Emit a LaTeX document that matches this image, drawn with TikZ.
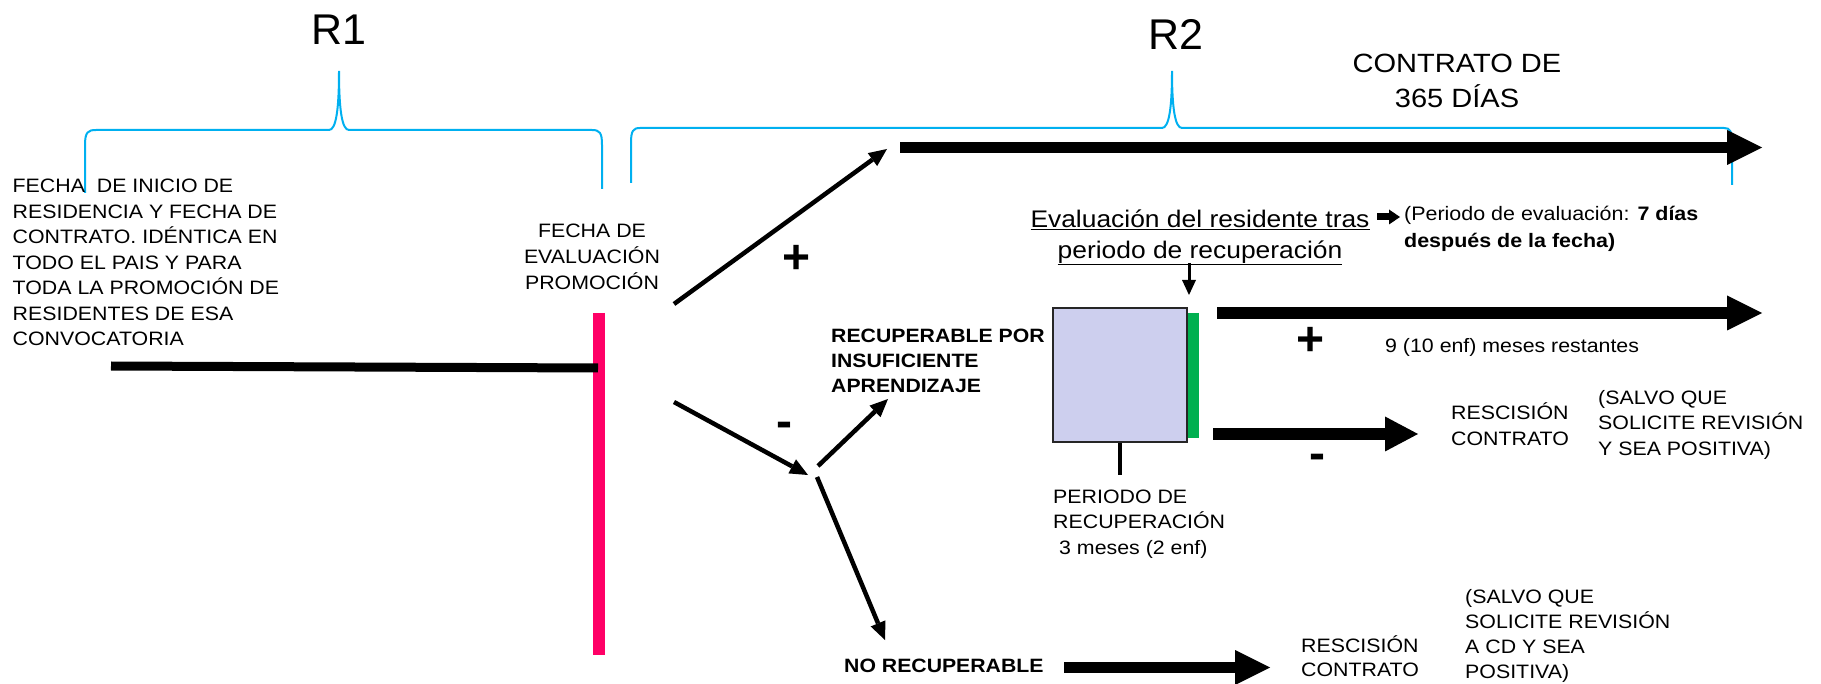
\documentclass[tikz,border=0pt]{standalone}
\usepackage{fontspec}
\setmainfont{Liberation Sans}[FakeStretch=1.1]
\newfontfamily\plainfont{Liberation Sans}
\usetikzlibrary{arrows.meta}
\definecolor{bracecol}{HTML}{00B0F0}
\definecolor{pinkc}{HTML}{FF0066}
\definecolor{greenc}{HTML}{00B050}
\definecolor{lavc}{HTML}{CDCFEE}
\newcommand\mystrut[1]{\rule{0pt}{#1pt}}
\begin{document}
\begin{tikzpicture}[x=1pt,y=-1pt,
  brace/.style={draw=bracecol, line width=2pt},
  bigarrow/.style={line width=11.5pt, -{Triangle[length=35pt,width=35pt,line width=0pt]}},
  thinarrow/.style={line width=4.5pt, -{Triangle[length=18pt,width=16pt,line width=0pt]}},
  txt/.style={inner sep=0pt, anchor=north west, align=left, font=\fontsize{19.4}{25.5}\selectfont},
  ctxt/.style={inner sep=0pt, anchor=north, align=center, font=\fontsize{19.4}{26}\selectfont},
  big/.style={inner sep=0pt, anchor=base, font=\plainfont\fontsize{43}{50}\selectfont},
  sign/.style={inner sep=0pt, anchor=center, font=\plainfont\bfseries\fontsize{48}{50}\selectfont}
]
\useasboundingbox (0,0) rectangle (1821,684);

% braces
\draw[brace] (85,193) -- (85,145) .. controls (85,132) and (88,130) .. (96,130) -- (329,130)
  .. controls (336,130) and (339,110) .. (339,71) .. controls (339,110) and (342,130) .. (349,130)
  -- (592,130) .. controls (600,130) and (602,133) .. (602,145) -- (602,189);
\draw[brace] (631,183) -- (631,143) .. controls (631,131) and (633,128) .. (640,128) -- (1162,128)
  .. controls (1169,128) and (1172,108) .. (1172,71) .. controls (1172,108) and (1175,128) .. (1182,128)
  -- (1724,128) .. controls (1730,128) and (1732,131) .. (1732,143) -- (1732,185);

% titles
\node[big] (r1) at (339,45) {R1};
\node[big] (r2) at (1176,50) {R2};
\node[ctxt, font=\fontsize{26.4}{35}\selectfont] (contrato) at (1457,43) {\mystrut{29}CONTRATO DE\\365 DÍAS};

% left text
\node[txt] (inicio) at (12.5,172.5) {\mystrut{20}FECHA~ DE INICIO DE\\RESIDENCIA Y FECHA DE\\CONTRATO. IDÉNTICA EN\\TODO EL PAIS Y PARA\\TODA LA PROMOCIÓN DE\\RESIDENTES DE ESA\\CONVOCATORIA};
\node[ctxt] (fevprom) at (592,217) {\mystrut{20}FECHA DE\\EVALUACIÓN\\PROMOCIÓN};

% pink bar and timeline
\coordinate (pinkT) at (598.5,313);
\coordinate (pinkB) at (598.5,655);
\draw[pinkc, line width=12pt] (pinkT) -- (pinkB);
\coordinate (lineL) at (111,366);
\coordinate (lineR) at (598,368);
\draw[line width=9pt] (lineL) -- (lineR);

% branch arrows
\coordinate (upS) at (674,304);
\coordinate (upE) at (887,149);
\draw[thinarrow] (upS) -- (upE);
\node[sign] (plus1) at (797,259) {+};
\coordinate (dnS) at (674,402);
\coordinate (dnE) at (808,475);
\draw[thinarrow] (dnS) -- (dnE);
\node[sign] (minus1) at (784,430) {-};
\coordinate (jA) at (818,466);
\coordinate (jAE) at (888,399);
\draw[thinarrow] (jA) -- (jAE);
\coordinate (jB) at (817,477);
\coordinate (jBE) at (885,640);
\draw[thinarrow] (jB) -- (jBE);

% top contract arrow
\coordinate (topS) at (900,147.5);
\coordinate (topE) at (1762,147.5);
\draw[bigarrow] (topS) -- (topE);

% evaluation text
\node[ctxt, font=\fontsize{24}{31}\selectfont] (evalres) at (1200,201) {\mystrut{26}\underline{Evaluación del residente tras}\\\underline{periodo de recuperación}};
\coordinate (smS) at (1377,217);
\coordinate (smE) at (1400,217);
\draw[line width=7pt, -{Triangle[length=11pt,width=15pt,line width=0pt]}] (smS) -- (smE);
\node[txt, font=\fontsize{19.5}{27}\selectfont] (periodoeval) at (1404,200) {\mystrut{20}(Periodo de evaluación: \textbf{7 días}\\\textbf{después de la fecha)}};
\coordinate (dwS) at (1189,263);
\coordinate (dwE) at (1189,295);
\draw[line width=3pt, -{Triangle[length=15pt,width=14pt,line width=0pt]}] (dwS) -- (dwE);

% recovery box
\node[draw=black!85, line width=2pt, fill=lavc, minimum width=134pt, minimum height=134pt, inner sep=0pt] (box) at (1120,375) {};
\coordinate (grT) at (1193.5,313);
\coordinate (grB) at (1193.5,438);
\draw[greenc, line width=11pt] (grT) -- (grB);
\coordinate (boxT) at (1120,475);
\draw[line width=4.5pt] (box.south) -- (boxT);
\node[txt] (perrec) at (1053,483) {\mystrut{20}PERIODO DE\\RECUPERACIÓN\\\hspace*{6pt}3 meses (2 enf)};
\node[txt, font=\bfseries\fontsize{19.3}{25}\selectfont] (recup) at (831,322) {\mystrut{20}RECUPERABLE POR\\INSUFICIENTE\\APRENDIZAJE};

% outcomes after recovery
\coordinate (pS) at (1217,313);
\coordinate (pE) at (1762,313);
\draw[bigarrow] (pS) -- (pE);
\node[sign] (plus2) at (1311,341) {+};
\node[inner sep=0pt, anchor=base west, font=\fontsize{19.4}{25}\selectfont] (restantes) at (1385,353) {9 (10 enf) meses restantes};
\coordinate (mS) at (1213,434);
\coordinate (mE) at (1418,434);
\draw[bigarrow, -{Triangle[length=33pt,width=35pt,line width=0pt]}] (mS) -- (mE);
\node[sign] (minus2) at (1317,462) {-};
\node[txt, font=\fontsize{19.4}{26}\selectfont] (resc1) at (1451,399) {\mystrut{20}RESCISIÓN\\CONTRATO};
\node[txt] (salvo1) at (1598,384) {\mystrut{20}(SALVO QUE\\SOLICITE REVISIÓN\\Y SEA POSITIVA)};

% no recuperable
\node[inner sep=0pt, anchor=base west, font=\bfseries\fontsize{19.3}{25}\selectfont] (norec) at (844,672) {NO RECUPERABLE};
\coordinate (nS) at (1064,667.5);
\coordinate (nE) at (1270,667.5);
\draw[bigarrow] (nS) -- (nE);
\node[txt, font=\fontsize{19.4}{24.5}\selectfont] (resc2) at (1301,632) {\mystrut{20}RESCISIÓN\\CONTRATO};
\node[txt, font=\fontsize{19.4}{25}\selectfont] (salvo2) at (1465,583) {\mystrut{20}(SALVO QUE\\SOLICITE REVISIÓN\\A CD Y SEA\\POSITIVA)};
\end{tikzpicture}
\end{document}
